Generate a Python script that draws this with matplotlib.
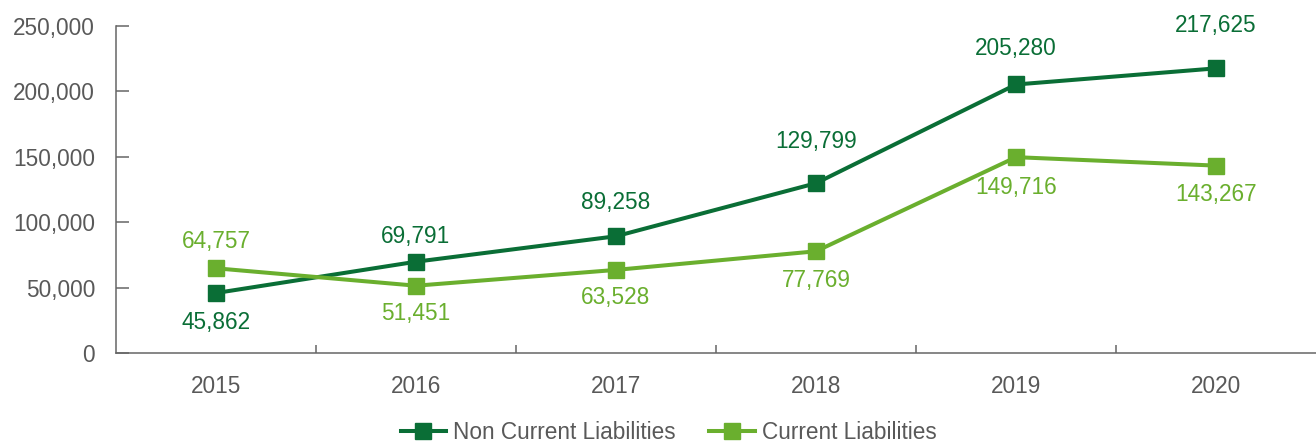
import matplotlib.pyplot as plt
from matplotlib.ticker import FuncFormatter, FixedLocator

# liabilities by year
years = ['2015', '2016', '2017', '2018', '2019', '2020']
non_current = [45862, 69791, 89258, 129799, 205280, 217625]
current = [64757, 51451, 63528, 77769, 149716, 143267]

# label offsets in points (positive = above the marker)
non_current_off = [-21, 18, 24, 30, 26, 31]
current_off = [19, -20, -20, -21, -22, -21]

dark = '#0a6e36'
light = '#6aaf2e'
grey = '#595959'
fs = 16.3

plt.rcParams['font.family'] = ['Liberation Sans', 'DejaVu Sans']

fig = plt.figure(figsize=(13.16, 4.44), dpi=100)
ax = fig.add_axes([116 / 1316, 91 / 444, 1200 / 1316, 327 / 444])

x = list(range(len(years)))
ax.plot(x, non_current, color=dark, lw=2.9, marker='s', ms=12,
        label='Non Current Liabilities', zorder=3)
ax.plot(x, current, color=light, lw=2.9, marker='s', ms=12,
        label='Current Liabilities', zorder=3)

for xi, v, off in zip(x, non_current, non_current_off):
    ax.annotate(f'{v:,}', (xi, v), xytext=(0, off), textcoords='offset points',
                ha='center', va='center', color=dark, fontsize=fs)
for xi, v, off in zip(x, current, current_off):
    ax.annotate(f'{v:,}', (xi, v), xytext=(0, off), textcoords='offset points',
                ha='center', va='center', color=light, fontsize=fs)

ax.set_xlim(-0.5, len(years) - 0.5)
ax.set_ylim(0, 250000)
ax.set_yticks(range(0, 250001, 50000))
ax.yaxis.set_major_formatter(FuncFormatter(lambda v, p: f'{int(v):,}'))

# boundaries get tick marks, centres get the year labels
ax.xaxis.set_major_locator(FixedLocator([i + 0.5 for i in range(len(years) - 1)]))
ax.xaxis.set_major_formatter(FuncFormatter(lambda v, p: ''))
ax.xaxis.set_minor_locator(FixedLocator(x))
ax.set_xticklabels(years, minor=True)

ax.tick_params(axis='y', direction='in', length=9, width=1.1, color='#666666',
               labelcolor=grey, labelsize=fs, pad=15)
ax.tick_params(axis='x', which='major', direction='in', length=6, width=1.1,
               color='#666666')
ax.tick_params(axis='x', which='minor', length=0, labelcolor=grey,
               labelsize=fs, pad=16)

for side in ['top', 'right']:
    ax.spines[side].set_visible(False)
for side in ['left', 'bottom']:
    ax.spines[side].set_color('#666666')
    ax.spines[side].set_linewidth(1.1)

fig.legend(loc='center', bbox_to_anchor=(0.508, 12 / 444), ncol=2,
           frameon=False, fontsize=fs, labelcolor=grey, handlelength=2.0,
           handletextpad=0.3, columnspacing=1.5, borderaxespad=0)

fig.savefig('out.png', dpi=100)
